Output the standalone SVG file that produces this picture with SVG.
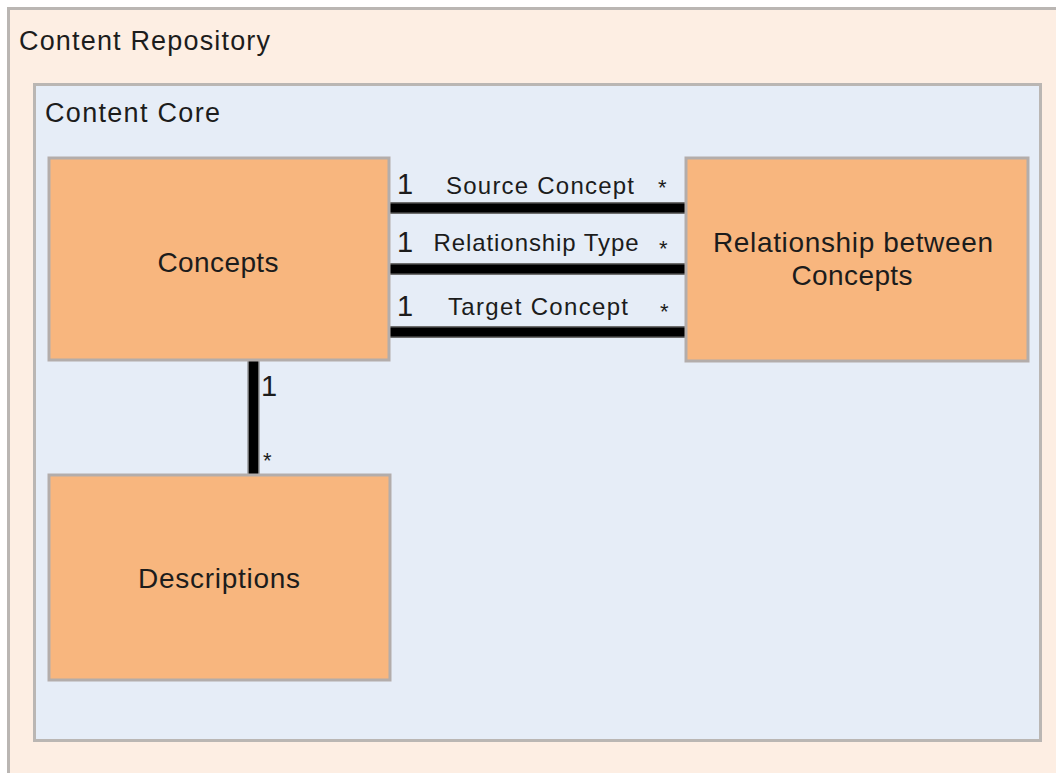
<svg xmlns="http://www.w3.org/2000/svg" width="1056" height="773" viewBox="0 0 1056 773">
  <style>
    text { font-family: "Liberation Sans", Arial, sans-serif; fill: #1c1c1c; }
    .title { font-size: 27px; }
    .box-label { font-size: 28px; text-anchor: middle; }
    .conn-label { font-size: 24px; text-anchor: middle; }
    .mult { font-size: 29px; }
    .star { font-size: 22px; }
    .container-outer { fill: #fdeee3; stroke: #bab6b3; stroke-width: 3; }
    .container-inner { fill: #e6edf7; stroke: #bab6b3; stroke-width: 3; }
    .entity { fill: #f8b67e; stroke: #b3adab; stroke-width: 3; }
    .edge-halo { stroke: #6e6e6e; stroke-width: 12; fill: none; }
    .edge-core { stroke: #000; stroke-width: 9; fill: none; }
  </style>

  <rect width="1056" height="773" fill="#ffffff"/>

  <!-- Content Repository package -->
  <g id="content-repository">
    <rect class="container-outer" x="8.5" y="8.5" width="1100" height="800"/>
    <text class="title" x="19" y="50" textLength="251" lengthAdjust="spacing">Content Repository</text>
  </g>

  <!-- Content Core package -->
  <g id="content-core">
    <rect class="container-inner" x="34.5" y="84.5" width="1006" height="656"/>
    <text class="title" x="45" y="122" textLength="175" lengthAdjust="spacing">Content Core</text>
  </g>

  <!-- Associations -->
  <g id="connectors">
    <g id="source-concept">
      <line class="edge-halo" x1="390" y1="208" x2="686" y2="208"/>
      <line class="edge-core" x1="390" y1="208" x2="686" y2="208"/>
      <text class="mult" x="397" y="194">1</text>
      <text class="conn-label" x="540" y="194" textLength="188" lengthAdjust="spacing">Source Concept</text>
      <text class="star" x="658" y="195">*</text>
    </g>
    <g id="relationship-type">
      <line class="edge-halo" x1="390" y1="269" x2="686" y2="269"/>
      <line class="edge-core" x1="390" y1="269" x2="686" y2="269"/>
      <text class="mult" x="397" y="252">1</text>
      <text class="conn-label" x="536" y="251" textLength="205" lengthAdjust="spacing">Relationship Type</text>
      <text class="star" x="659" y="256">*</text>
    </g>
    <g id="target-concept">
      <line class="edge-halo" x1="390" y1="332" x2="686" y2="332"/>
      <line class="edge-core" x1="390" y1="332" x2="686" y2="332"/>
      <text class="mult" x="397" y="316">1</text>
      <text class="conn-label" x="538" y="315" textLength="180" lengthAdjust="spacing">Target Concept</text>
      <text class="star" x="660" y="319">*</text>
    </g>
    <g id="concept-descriptions">
      <line class="edge-halo" x1="253.5" y1="360" x2="253.5" y2="476"/>
      <line class="edge-core" x1="253.5" y1="360" x2="253.5" y2="476"/>
      <text class="mult" x="261" y="396">1</text>
      <text class="star" x="263" y="468">*</text>
    </g>
  </g>

  <g id="concepts">
    <rect class="entity" x="49" y="158" width="340" height="202"/>
    <text class="box-label" x="218" y="272" textLength="121" lengthAdjust="spacing">Concepts</text>
  </g>

  <g id="relationship-between-concepts">
    <rect class="entity" x="686" y="158" width="342" height="203"/>
    <text class="box-label" x="853" y="252" textLength="280" lengthAdjust="spacing">Relationship between</text>
    <text class="box-label" x="852" y="285" textLength="121" lengthAdjust="spacing">Concepts</text>
  </g>

  <g id="descriptions">
    <rect class="entity" x="49" y="475" width="341" height="205"/>
    <text class="box-label" x="219" y="588" textLength="162" lengthAdjust="spacing">Descriptions</text>
  </g>
</svg>
